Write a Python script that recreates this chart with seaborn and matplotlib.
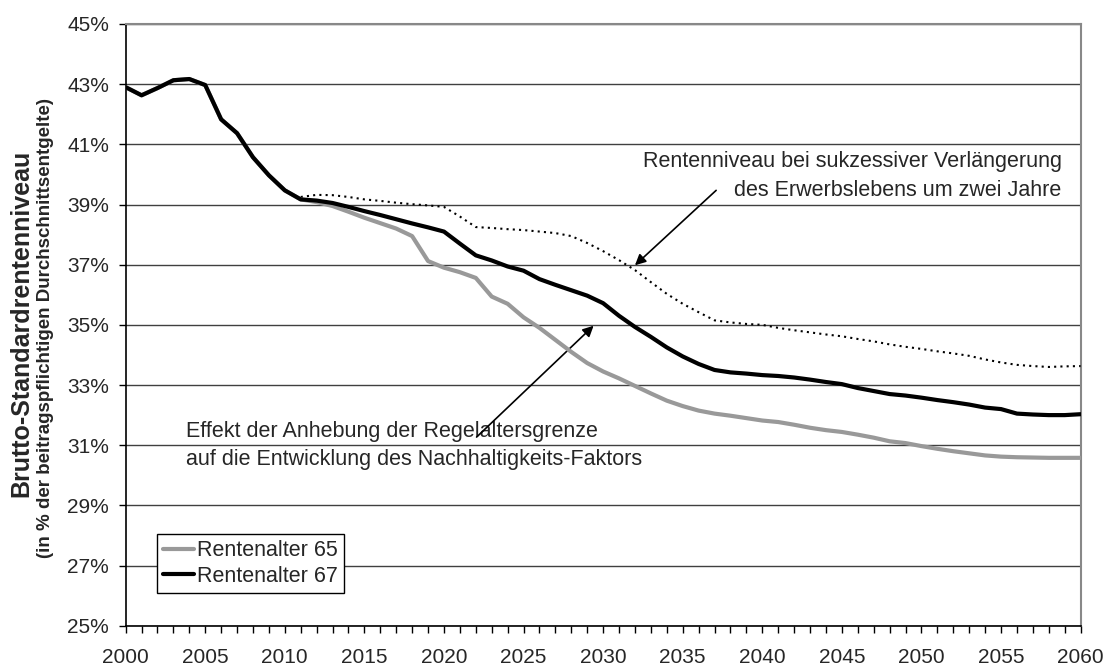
import numpy as np
import pandas as pd
import matplotlib
matplotlib.use('Agg')
import matplotlib.pyplot as plt
import seaborn as sns

# Brutto-Standardrentenniveau in %
years = list(range(2000, 2061))
rente_67 = [
    42.90, 42.63, 42.87, 43.13, 43.17, 42.97, 41.83, 41.37, 40.57, 39.97,
    39.47, 39.17, 39.13, 39.05, 38.92, 38.78, 38.65, 38.51, 38.37, 38.24,
    38.10, 37.70, 37.31, 37.14, 36.94, 36.80, 36.52, 36.33, 36.15, 35.97,
    35.72, 35.30, 34.93, 34.60, 34.25, 33.95, 33.70, 33.50, 33.42, 33.38,
    33.33, 33.30, 33.25, 33.18, 33.10, 33.03, 32.90, 32.80, 32.70, 32.65,
    32.58, 32.50, 32.43, 32.35, 32.25, 32.20, 32.05, 32.02, 32.00, 32.00,
    32.03,
]
rente_65 = [
    42.90, 42.63, 42.87, 43.13, 43.17, 42.97, 41.83, 41.37, 40.57, 39.97,
    39.47, 39.17, 39.08, 38.95, 38.76, 38.56, 38.38, 38.20, 37.95, 37.12,
    36.90, 36.75, 36.56, 35.94, 35.70, 35.25, 34.90, 34.50, 34.10, 33.73,
    33.45, 33.22, 32.97, 32.72, 32.48, 32.30, 32.15, 32.05, 31.98, 31.90,
    31.82, 31.77, 31.68, 31.58, 31.50, 31.44, 31.35, 31.25, 31.13, 31.07,
    30.97, 30.88, 30.80, 30.73, 30.66, 30.62, 30.60, 30.59, 30.58, 30.58,
    30.58,
]
years_verl = list(range(2011, 2061))
rente_verl = [
    39.25, 39.32, 39.31, 39.25, 39.17, 39.12, 39.06, 39.01, 38.97, 38.92,
    38.60, 38.25, 38.22, 38.18, 38.15, 38.10, 38.05, 37.95, 37.72, 37.45,
    37.15, 36.82, 36.42, 36.03, 35.70, 35.42, 35.15, 35.08, 35.03, 35.00,
    34.90, 34.82, 34.75, 34.68, 34.62, 34.53, 34.45, 34.35, 34.27, 34.20,
    34.12, 34.05, 33.97, 33.85, 33.75, 33.67, 33.63, 33.60, 33.62, 33.63,
]

label_65 = 'Rentenalter 65'
label_67 = 'Rentenalter 67'
note_verl = ['Rentenniveau bei sukzessiver Verlängerung',
             'des Erwerbslebens um zwei Jahre']
note_effekt = ['Effekt der Anhebung der Regelaltersgrenze',
               'auf die Entwicklung des Nachhaltigkeits-Faktors']

df = pd.DataFrame({'Jahr': years, label_65: rente_65, label_67: rente_67})
df_verl = pd.DataFrame({'Jahr': years_verl, 'Niveau': rente_verl})

sns.set_theme(style='white')
plt.rcParams['font.family'] = ['Liberation Sans', 'DejaVu Sans']

fig = plt.figure(figsize=(11.09, 6.68), dpi=100)
ax = fig.add_axes([0.1133, 0.0633, 0.8611, 0.9008])

sns.lineplot(data=df_verl, x='Jahr', y='Niveau', ax=ax, color='black',
             lw=1.5, linestyle=(0, (1.0, 2.0)), zorder=3)
sns.lineplot(data=df, x='Jahr', y=label_65, ax=ax, color='#999999',
             lw=3, label=label_65, zorder=4)
sns.lineplot(data=df, x='Jahr', y=label_67, ax=ax, color='black',
             lw=3, label=label_67, zorder=5)

ax.set_xlim(2000, 2060)
ax.set_ylim(25, 45)
ax.set_xticks(range(2000, 2061, 5))
ax.set_xticks(years, minor=True)
ax.set_yticks(range(25, 46, 2))
ax.set_yticklabels([f'{v}%' for v in range(25, 46, 2)])
ax.set_xlabel('')
ax.set_ylabel('')

ax.yaxis.grid(True, color='#404040', lw=1.0)
ax.xaxis.grid(False)
ax.set_axisbelow(True)
for side in ['top', 'right']:
    ax.spines[side].set_color('#888888')
    ax.spines[side].set_linewidth(1.5)
for side in ['left', 'bottom']:
    ax.spines[side].set_color('black')
    ax.spines[side].set_linewidth(1.2)

ax.tick_params(axis='both', which='both', direction='out', length=5,
               width=1, color='black', labelsize=15)
ax.tick_params(axis='x', which='both', bottom=True, pad=11)
ax.tick_params(axis='y', left=True, pad=7)

# annotations
ax.text(2058.8, 40.42, note_verl[0], ha='right', va='center', fontsize=15.5)
ax.text(2058.8, 39.48, note_verl[1], ha='right', va='center', fontsize=15.5)
ax.text(2003.8, 31.45, note_effekt[0], ha='left', va='center', fontsize=15.5)
ax.text(2003.8, 30.51, note_effekt[1], ha='left', va='center', fontsize=15.5)

arrow = dict(arrowstyle='-|>', color='black', lw=1.2, mutation_scale=16,
             shrinkA=0, shrinkB=0)
ax.annotate('', xy=(2032.0, 36.98), xytext=(2037.1, 39.47), arrowprops=arrow)
ax.annotate('', xy=(2029.4, 34.97), xytext=(2022.05, 31.27), arrowprops=arrow)

leg = ax.legend(loc='lower left', bbox_to_anchor=(0.0325, 0.054),
                borderaxespad=0, fontsize=15.5, frameon=True, fancybox=False,
                edgecolor='black', framealpha=1, handlelength=1.45,
                handletextpad=0.12, borderpad=0.3, labelspacing=0.2)
leg.get_frame().set_linewidth(1.0)

fig.text(0.019, 1 - 323 / 668, 'Brutto-Standardrentenniveau', rotation=90,
         ha='center', va='center', fontsize=18, fontweight='bold')
fig.text(0.041, 1 - 328 / 668,
         '(in % der beitragspflichtigen Durchschnittsentgelte)', rotation=90,
         ha='center', va='center', fontsize=13.5, fontweight='bold')

fig.savefig('out.png', dpi=100)
